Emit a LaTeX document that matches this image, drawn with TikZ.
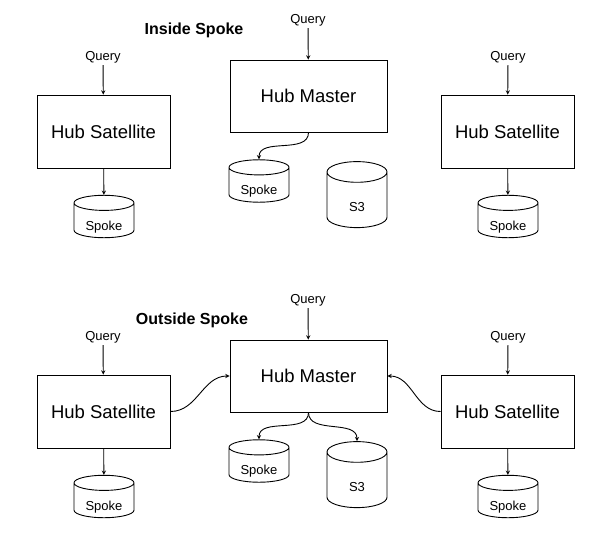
\documentclass[tikz,border=0pt]{standalone}
\usepackage{fontspec}
\setmainfont{Liberation Sans}
\usetikzlibrary{shapes.geometric}
\tikzset{
    normal/.style={draw, line width=0.9pt},
    box/.style={style=normal, minimum width=133pt, minimum height=73pt, inner sep=0, font=\fontsize{18.5}{20}\selectfont},
    master/.style={style=box, minimum width=157pt, minimum height=72pt},
    db/.style={style=normal, cylinder, shape border rotate=90, aspect=0.41, minimum width=60pt, minimum height=35pt, inner sep=0, text height=19.3pt, text depth=0pt, font=\fontsize{13}{14}\selectfont},
    bigdb/.style={style=db, aspect=1.3, minimum height=66pt, text height=22.7pt},
    query/.style={inner sep=2pt, font=\fontsize{13}{14}\selectfont},
    e/.style={style=normal, ->, >=stealth},
    title/.style={font=\bfseries\fontsize{16}{18}\selectfont}
}

\begin{document}
\begin{tikzpicture}[x=1pt, y=-1pt]
        \useasboundingbox (0, 0) rectangle (615, 552);

        % inside spoke
        \node[title] (in_title) at (194, 30) {Inside Spoke};

        \node[box] (in_sat_left) at (103.5, 131.5) {Hub Satellite};
        \node[master] (in_master) at (308.5, 96) {Hub Master};
        \node[box] (in_sat_right) at (507.5, 131.5) {Hub Satellite};

        \node[query] (in_query_left) at (103, 57) {Query};
        \node[query] (in_query_master) at (308, 20) {Query};
        \node[query] (in_query_right) at (508, 57) {Query};

        \node[db] (in_spoke_left) at (104, 220.5) {Spoke};
        \node[db] (in_spoke_master) at (259, 185) {Spoke};
        \node[bigdb] (in_s3) at (357, 200) {S3};
        \node[db] (in_spoke_right) at (508, 220.5) {Spoke};

        \draw[e] (in_query_left) to (in_sat_left);
        \draw[e] (in_query_master) to (in_master);
        \draw[e] (in_query_right) to (in_sat_right);
        \draw[e] (in_sat_left) to (in_spoke_left);
        \draw[e] (in_sat_right) to (in_spoke_right);
        \draw[e] (in_master.south) to[out=-90, in=90] (in_spoke_master.north);

        % outside spoke
        \node[title] (out_title) at (192, 320) {Outside Spoke};

        \node[box] (out_sat_left) at (103.5, 411.5) {Hub Satellite};
        \node[master] (out_master) at (308.5, 376) {Hub Master};
        \node[box] (out_sat_right) at (507.5, 411.5) {Hub Satellite};

        \node[query] (out_query_left) at (103, 337) {Query};
        \node[query] (out_query_master) at (308, 300) {Query};
        \node[query] (out_query_right) at (508, 337) {Query};

        \node[db] (out_spoke_left) at (104, 500.5) {Spoke};
        \node[db] (out_spoke_master) at (259, 465) {Spoke};
        \node[bigdb] (out_s3) at (357, 480) {S3};
        \node[db] (out_spoke_right) at (508, 500.5) {Spoke};

        \draw[e] (out_query_left) to (out_sat_left);
        \draw[e] (out_query_master) to (out_master);
        \draw[e] (out_query_right) to (out_sat_right);
        \draw[e] (out_sat_left) to (out_spoke_left);
        \draw[e] (out_sat_right) to (out_spoke_right);
        \draw[e] (out_master.south) to[out=-90, in=90] (out_spoke_master.north);
        \draw[e] (out_master.south) to[out=-90, in=90] (out_s3.north);
        \draw[e] (out_sat_left.east) to[out=0, in=180] (out_master.west);
        \draw[e] (out_sat_right.west) to[out=180, in=0] (out_master.east);
      \end{tikzpicture}
\end{document}
